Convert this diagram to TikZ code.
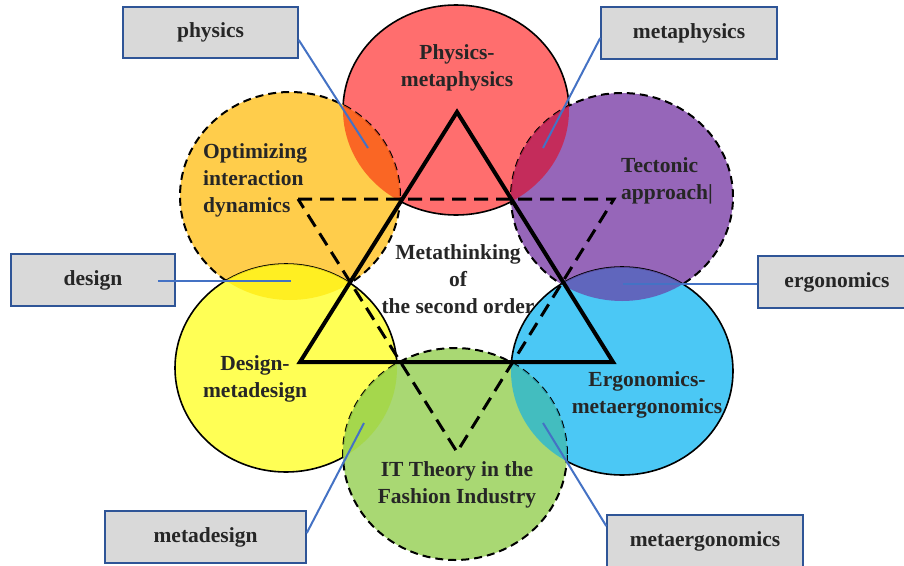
\documentclass[tikz,border=0pt]{standalone}
\usepackage{fontspec}
\setmainfont{Liberation Serif}
\usetikzlibrary{shapes.geometric}
\definecolor{cRed}{RGB}{255,110,110}
\definecolor{cOrange}{RGB}{255,205,75}
\definecolor{cPurple}{RGB}{150,102,185}
\definecolor{cYellow}{RGB}{255,255,85}
\definecolor{cBlue}{RGB}{75,200,245}
\definecolor{cGreen}{RGB}{169,216,115}
\definecolor{oRO}{RGB}{250,85,30}
\definecolor{oRP}{RGB}{205,35,75}
\definecolor{oOY}{RGB}{255,237,26}
\definecolor{oPB}{RGB}{100,85,180}
\definecolor{oYG}{RGB}{165,215,70}
\definecolor{oBG}{RGB}{50,185,205}
\definecolor{txt}{RGB}{38,38,38}
\definecolor{boxfill}{RGB}{217,217,217}
\definecolor{boxline}{RGB}{47,85,151}
\definecolor{conncol}{RGB}{68,114,196}
\begin{document}
\begin{tikzpicture}[x=1pt,y=-1pt,
  ell/.style={ellipse, inner sep=0pt, line width=1.6pt, draw=black},
  dashell/.style={ell, line width=2pt, dash pattern=on 8pt off 5pt},
  lbl/.style={font=\bfseries\fontsize{21.5}{27}\selectfont, text=txt, inner sep=0pt},
  tagbox/.style={rectangle, fill=boxfill, draw=boxline, line width=1.5pt, font=\bfseries\fontsize{21.5}{25}\selectfont, text=txt},
  conn/.style={draw=conncol, line width=2pt},
  solidtri/.style={line width=4pt, line join=miter},
  dashtri/.style={line width=3pt, dash pattern=on 14pt off 8pt},
  ovl/.style={fill opacity=0.85}]
\useasboundingbox (0,0) rectangle (904,565);
% ellipses
\node[ell, fill=cRed, minimum width=226pt, minimum height=210pt] (red) at (456,110) {};
\node[dashell, fill=cOrange, minimum width=220pt, minimum height=208pt] (orange) at (290,196) {};
\node[dashell, fill=cPurple, minimum width=222pt, minimum height=208pt] (purple) at (622,197) {};
\node[ell, fill=cYellow, minimum width=222pt, minimum height=208pt] (yellow) at (286,368) {};
\node[ell, fill=cBlue, minimum width=222pt, minimum height=208pt] (blue) at (622,371) {};
\node[dashell, fill=cGreen, minimum width=224pt, minimum height=212pt] (green) at (455,454) {};
% overlaps
\begin{scope}
\clip (456,110) ellipse [x radius=113, y radius=105];
\fill[oRO, ovl] (290,196) ellipse [x radius=110, y radius=104];
\end{scope}
\begin{scope}
\clip (456,110) ellipse [x radius=113, y radius=105];
\fill[oRP, ovl] (622,197) ellipse [x radius=111, y radius=104];
\end{scope}
\begin{scope}
\clip (290,196) ellipse [x radius=110, y radius=104];
\fill[oOY, ovl] (286,368) ellipse [x radius=111, y radius=104];
\end{scope}
\begin{scope}
\clip (622,197) ellipse [x radius=111, y radius=104];
\fill[oPB, ovl] (622,371) ellipse [x radius=111, y radius=104];
\end{scope}
\begin{scope}
\clip (286,368) ellipse [x radius=111, y radius=104];
\fill[oYG, ovl] (455,454) ellipse [x radius=112, y radius=106];
\end{scope}
\begin{scope}
\clip (622,371) ellipse [x radius=111, y radius=104];
\fill[oBG, ovl] (455,454) ellipse [x radius=112, y radius=106];
\end{scope}
% triangles
\coordinate (tA) at (457,112);
\coordinate (tB) at (300,362);
\coordinate (tC) at (613,362);
\coordinate (dA) at (298,199);
\coordinate (dB) at (614,199);
\coordinate (dC) at (457,452);
\draw[dashtri] (dA) -- (dB) -- (dC) -- cycle;
\draw[solidtri] (tA) -- (tB) -- (tC) -- cycle;
% labels (anchor base = baseline of last line)
\node[lbl, align=center, anchor=base] (lphys) at (457,86) {Physics-\\metaphysics};
\node[lbl, align=left, anchor=base west] (lopt) at (203,212) {Optimizing\\interaction\\dynamics};
\node[lbl, align=left, anchor=base west] (ltec) at (621,199) {Tectonic\\approach|};
\node[lbl, align=center, anchor=base] (lmeta) at (458,313) {Metathinking\\of\\the second order};
\node[lbl, align=center, anchor=base] (ldes) at (255,397) {Design-\\metadesign};
\node[lbl, align=center, anchor=base] (lerg) at (647,413) {Ergonomics-\\metaergonomics};
\node[lbl, align=center, anchor=base] (lit) at (457,503) {IT Theory in the\\Fashion Industry};
% tag boxes
\node[tagbox, minimum width=175pt, minimum height=51pt] (bphys) at (210.5,32.5) {physics};
\node[tagbox, minimum width=176pt, minimum height=52pt] (bmphys) at (689,33) {metaphysics};
\node[tagbox, minimum width=164pt, minimum height=52pt] (bdes) at (93,280) {design};
\node[tagbox, minimum width=158pt, minimum height=52pt] (berg) at (837,282) {ergonomics};
\node[tagbox, minimum width=201pt, minimum height=52pt] (bmdes) at (205.5,537) {metadesign};
\node[tagbox, minimum width=196pt, minimum height=52pt] (bmerg) at (705,541) {metaergonomics};
% connector ends
\coordinate (pPhys) at (368,148);
\coordinate (pMphys) at (543,148);
\coordinate (pDes) at (291,281);
\coordinate (pErg) at (623,284);
\coordinate (pMdes) at (364,423);
\coordinate (pMerg) at (543,423);
\draw[conn] ([yshift=-7.5pt]bphys.east) -- (pPhys);
\draw[conn] ([yshift=-5pt]bmphys.west) -- (pMphys);
\draw[conn] ([xshift=-18pt,yshift=-1pt]bdes.east) -- (pDes);
\draw[conn] ([yshift=-2pt]berg.west) -- (pErg);
\draw[conn] ([yshift=4pt]bmdes.east) -- (pMdes);
\draw[conn] ([yshift=15pt]bmerg.west) -- (pMerg);
\end{tikzpicture}
\end{document}
